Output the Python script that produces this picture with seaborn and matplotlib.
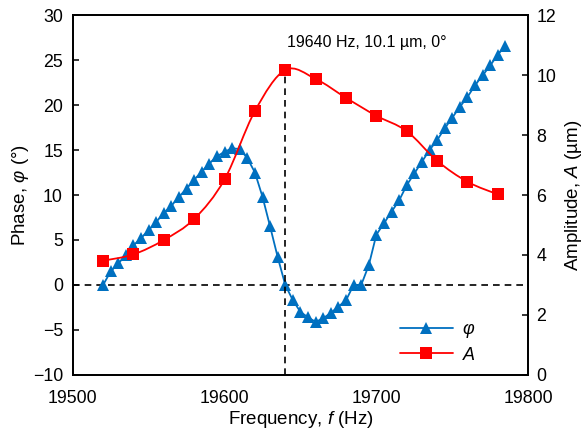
"""Phase and amplitude versus drive frequency, twin y axes."""

import matplotlib

matplotlib.use("Agg")
import matplotlib.pyplot as plt
import numpy as np
import seaborn as sns
from matplotlib.lines import Line2D
from matplotlib.patches import PathPatch
from matplotlib.path import Path

# --- data ---
freq_phase = list(range(19520, 19790, 5))
phase = [0.0, 1.5, 2.4, 3.3, 4.4, 5.2, 6.1, 7.0, 8.0, 8.8,
         9.8, 10.7, 11.7, 12.6, 13.5, 14.3, 14.8, 15.2, 15.1, 14.1,
         12.5, 9.8, 6.5, 3.1, 0.0, -1.7, -3.0, -3.6, -4.1, -3.7,
         -3.1, -2.4, -1.7, 0.0, 0.0, 2.2, 5.6, 6.85, 8.15, 9.4,
         11.1, 12.4, 13.7, 15.0, 16.1, 17.4, 18.6, 19.8, 20.9, 22.2,
         23.3, 24.4, 25.6, 26.6]
freq_amp = list(range(19520, 19800, 20))
amplitude = [3.81, 4.02, 4.5, 5.2, 6.52, 8.8, 10.17, 9.87, 9.24, 8.64,
             8.13, 7.14, 6.44, 6.02]
peak_freq, peak_amp = 19640, 10.1
note = "19640 Hz, 10.1 µm, 0°"

BLUE = "#0070C0"
RED = "#FF0000"

sns.set_theme(style="white")
plt.rcParams["font.family"] = ["Liberation Sans", "DejaVu Sans"]
plt.rcParams["mathtext.fontset"] = "custom"
plt.rcParams["mathtext.it"] = "Liberation Sans:italic"
plt.rcParams["mathtext.rm"] = "Liberation Sans"
plt.rcParams["axes.unicode_minus"] = True
plt.rcParams["text.color"] = "black"
plt.rcParams["axes.labelcolor"] = "black"


def smooth_path(x, y):
    """Excel-like smoothed line: Catmull-Rom segments as cubic Beziers."""
    pts = np.column_stack([x, y]).astype(float)
    verts = [pts[0]]
    codes = [Path.MOVETO]
    n = len(pts)
    for i in range(n - 1):
        p0 = pts[i - 1] if i > 0 else pts[i]
        p1, p2 = pts[i], pts[i + 1]
        p3 = pts[i + 2] if i + 2 < n else pts[i + 1]
        verts += [p1 + (p2 - p0) / 6, p2 - (p3 - p1) / 6, p2]
        codes += [Path.CURVE4] * 3
    return Path(verts, codes)


fig = plt.figure(figsize=(5.84, 4.30), dpi=100)
ax = fig.add_axes([0.1245, 0.128, 0.78, 0.837])
ax2 = ax.twinx()

sns.lineplot(x=freq_phase, y=phase, ax=ax, color=BLUE, lw=1.3,
             marker="^", markersize=8, markeredgewidth=0, zorder=3)

ax.axhline(0, color="black", lw=1.2, ls=(0, (4, 3)), zorder=2)
ax2.vlines(peak_freq, 0, peak_amp, color="black", lw=1.2, ls=(0, (4, 3)), zorder=2)

ax2.add_patch(PathPatch(smooth_path(freq_amp, amplitude), fill=False,
                        edgecolor=RED, lw=1.3, zorder=3))
sns.lineplot(x=freq_amp, y=amplitude, ax=ax2, color=RED, lw=0,
             marker="s", markersize=8.5, markeredgewidth=0, zorder=4)

ax.set_xlim(19500, 19800)
ax.set_ylim(-10, 30)
ax2.set_ylim(0, 12)
ax.set_xticks([19500, 19600, 19700, 19800])
ax.set_yticks(range(-10, 31, 5))
ax2.set_yticks(range(0, 13, 2))

ax.set_xlabel("Frequency, $f$ (Hz)", fontsize=13.5, labelpad=2)
ax.set_ylabel("Phase, $φ$ (°)", fontsize=13.5, labelpad=1)
ax2.set_ylabel("Amplitude, $A$ (µm)", fontsize=13.5, labelpad=5)

ax.tick_params(axis="y", direction="in", length=4, width=1.1, pad=7,
               labelsize=12.8, colors="black")
ax.tick_params(axis="x", length=0, pad=10.5, labelsize=12.8, colors="black")
ax2.tick_params(axis="y", direction="in", length=4, width=1.1, pad=6,
                labelsize=12.8, colors="black")
for a in (ax, ax2):
    for s in a.spines.values():
        s.set_color("black")
        s.set_linewidth(1.3)

ax.text(19694, 27, note, ha="center", va="center", fontsize=11.5)

handles = [
    Line2D([], [], color=BLUE, lw=1.3, marker="^", markersize=8, markeredgewidth=0),
    Line2D([], [], color=RED, lw=1.3, marker="s", markersize=8.5, markeredgewidth=0),
]
ax2.legend(handles, ["$φ$", "$A$"], loc="lower right", bbox_to_anchor=(0.92, -0.014),
           frameon=False, fontsize=13, handlelength=2.9, handletextpad=0.5,
           labelspacing=0.35)

fig.savefig("out.png", dpi=100)
plt.close(fig)
